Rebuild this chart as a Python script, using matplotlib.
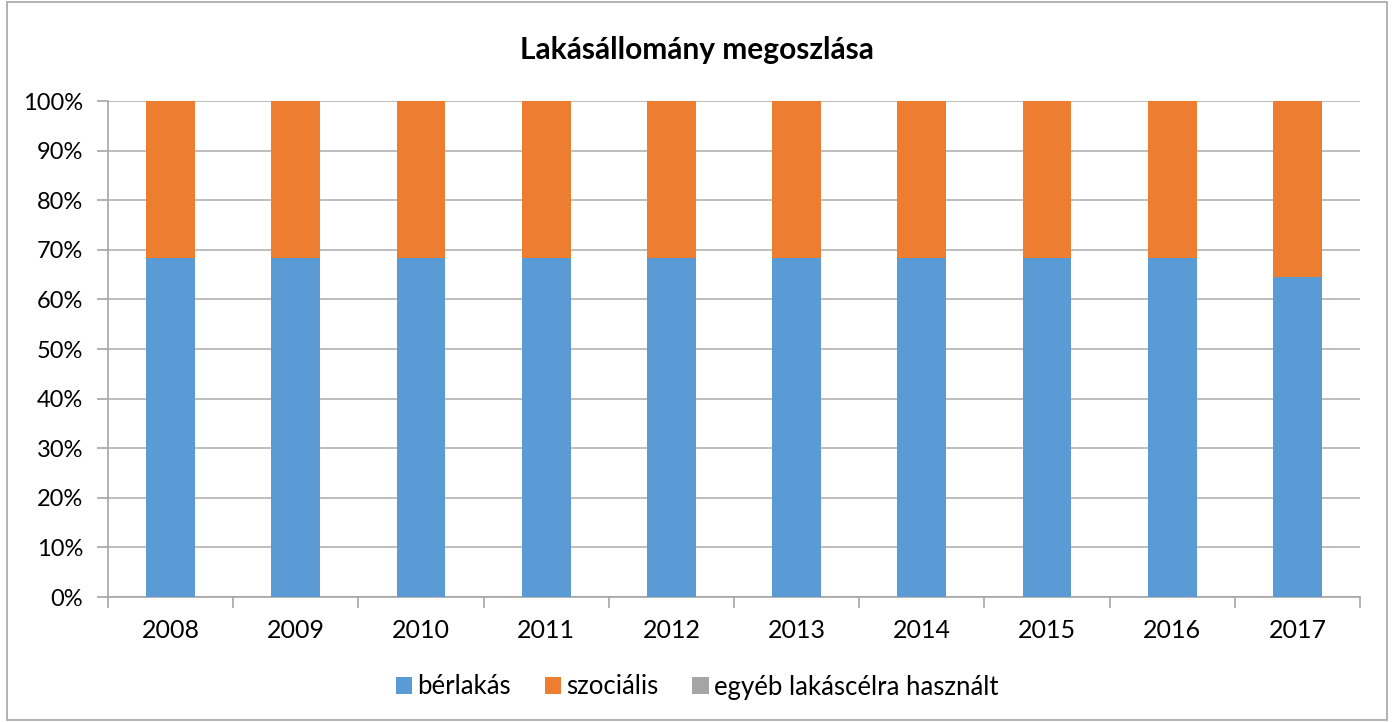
import numpy as np
import matplotlib
matplotlib.use("Agg")
import matplotlib.pyplot as plt
from matplotlib.patches import Rectangle
from matplotlib.ticker import PercentFormatter

years = ["2008", "2009", "2010", "2011", "2012", "2013", "2014", "2015", "2016", "2017"]
berlakas = [68.4, 68.4, 68.4, 68.4, 68.4, 68.4, 68.4, 68.4, 68.4, 64.6]
szocialis = [31.6, 31.6, 31.6, 31.6, 31.6, 31.6, 31.6, 31.6, 31.6, 35.4]
egyeb = [0, 0, 0, 0, 0, 0, 0, 0, 0, 0]

plt.rcParams['font.family'] = ['Lato', 'DejaVu Sans']

fig = plt.figure(figsize=(13.94, 7.22), dpi=100)
ax = fig.add_axes([108 / 1394, 125 / 722, 1252 / 1394, 496 / 722])

x = np.arange(len(years))
tot = np.array(berlakas) + np.array(szocialis) + np.array(egyeb)
b = np.array(berlakas) / tot * 100
s = np.array(szocialis) / tot * 100
e = np.array(egyeb) / tot * 100
w = 0.39
ax.bar(x, b, w, color="#5b9bd5", label="bérlakás", zorder=3)
ax.bar(x, s, w, bottom=b, color="#ed7d31", label="szociális", zorder=3)
ax.bar(x, e, w, bottom=b + s, color="#a5a5a5", label="egyéb lakáscélra használt", zorder=3)

ax.set_xlim(-0.5, len(years) - 0.5)
ax.set_ylim(0, 100)
ax.set_yticks(np.arange(0, 101, 10))
ax.yaxis.set_major_formatter(PercentFormatter(decimals=0))
ax.set_xticks(x)
ax.set_xticklabels(years)
ax.set_xticks(np.arange(-0.5, len(years), 1), minor=True)
ax.grid(axis="y", color="#b3b3b3", linewidth=1.2, zorder=0)
for sp in ["top", "right"]:
    ax.spines[sp].set_visible(False)
for sp in ["left", "bottom"]:
    ax.spines[sp].set_color("#a6a6a6")
    ax.spines[sp].set_linewidth(1.2)
ax.tick_params(axis="x", which="major", length=0, labelsize=18, pad=16)
ax.tick_params(axis="x", which="minor", length=8, color="#a6a6a6", width=1.2)
ax.tick_params(axis="y", length=8, color="#a6a6a6", width=1.2, labelsize=17, pad=10)

fig.text(0.5, 1 - 50 / 722, "Lakásállomány megoszlása", ha="center", va="center",
         fontsize=21.5, fontweight="bold")

ax.legend(loc="center", bbox_to_anchor=(0.5, (722 - 687) / 722), bbox_transform=fig.transFigure,
          ncol=3, frameon=False, fontsize=18.5, handlelength=0.65, handleheight=0.65,
          handletextpad=0.2, columnspacing=1.3)

fig.patches.append(Rectangle((7 / 1394, 2 / 722), 1380 / 1394, 718 / 722, transform=fig.transFigure,
                             fill=False, edgecolor="#a6a6a6", linewidth=1.2))

fig.savefig("out.png", dpi=100)
